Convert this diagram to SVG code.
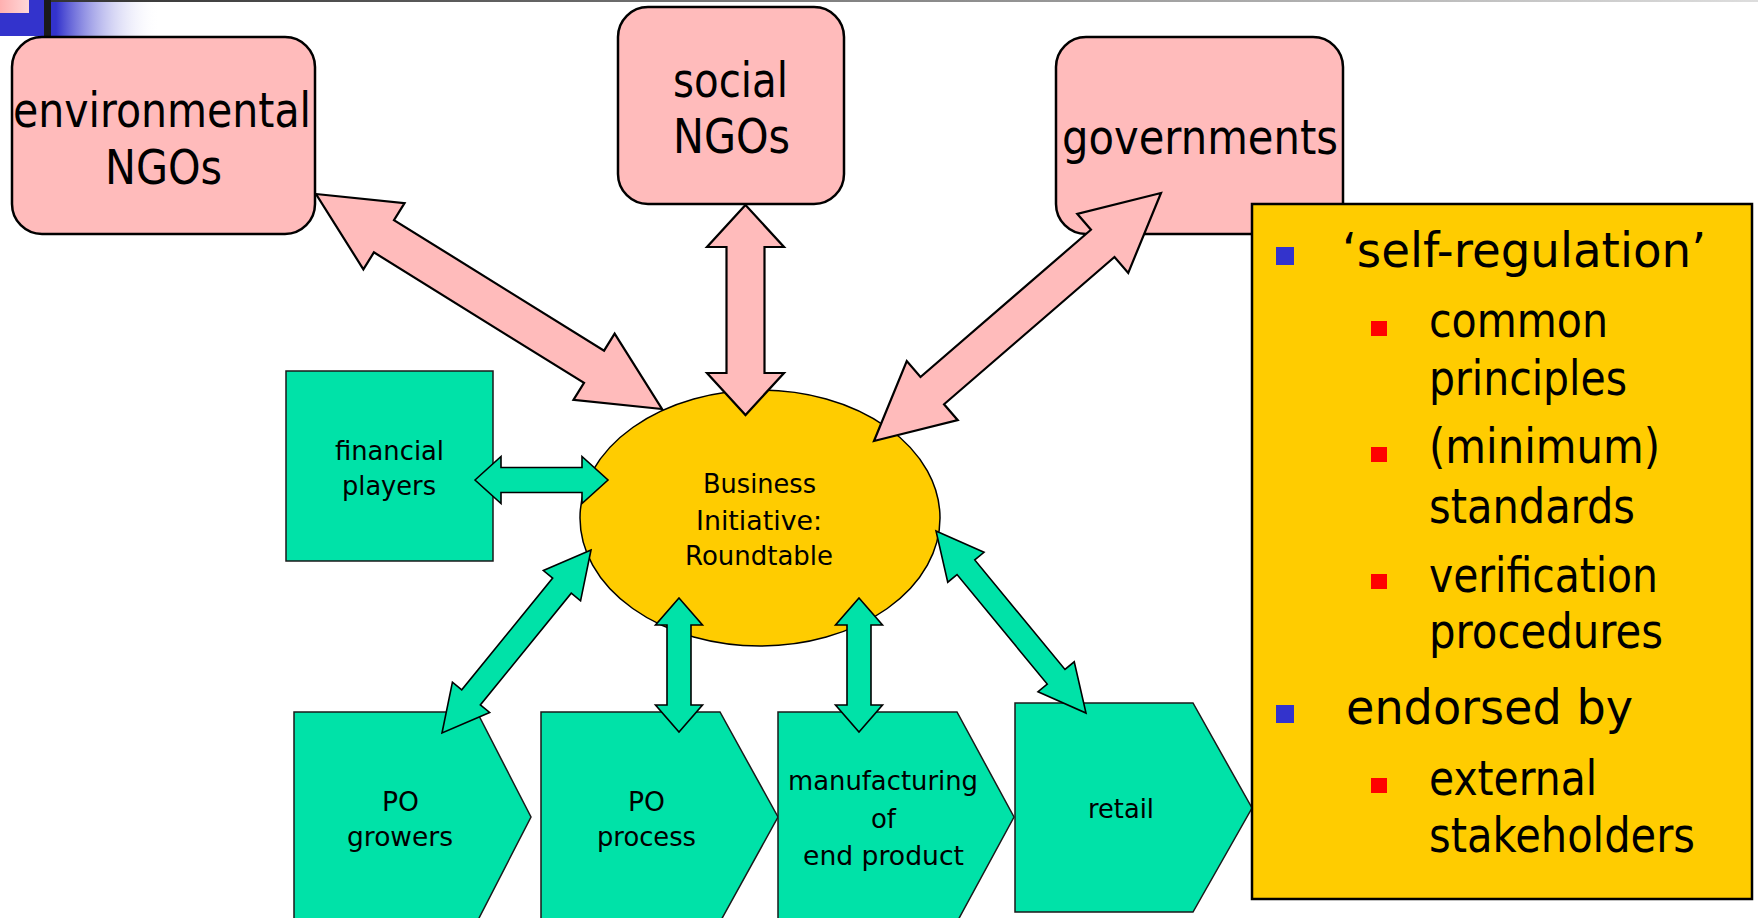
<svg xmlns="http://www.w3.org/2000/svg" width="1758" height="918" viewBox="0 0 1758 918">
<defs>
<linearGradient id="blueFade" x1="0" y1="0" x2="1" y2="0">
<stop offset="0" stop-color="#3333CC"/>
<stop offset="0.35" stop-color="#3333CC"/>
<stop offset="1" stop-color="#FFFFFF" stop-opacity="0"/>
</linearGradient>
<linearGradient id="pinkFade" x1="0" y1="0" x2="1" y2="0">
<stop offset="0" stop-color="#FFB0B0"/>
<stop offset="1" stop-color="#FFD8D8"/>
</linearGradient>
<linearGradient id="topLine" x1="0" y1="0" x2="1" y2="0">
<stop offset="0" stop-color="#333333"/>
<stop offset="1" stop-color="#DDDDDD"/>
</linearGradient>
<style>
.pink{fill:#FFBBBB;stroke:#000;stroke-width:2.5}
.green{fill:#00E2A8;stroke:#1a1a1a;stroke-width:1.5}
.ell{fill:#FFCC00;stroke:#000;stroke-width:1.5}
.parrow{fill:#FFBBBB;stroke:#000;stroke-width:2.2;stroke-linejoin:miter}
.garrow{fill:#00E2A8;stroke:#000;stroke-width:1.6;stroke-linejoin:miter}
.note{fill:#FFCC00;stroke:#000;stroke-width:2.5}
text{font-family:"DejaVu Sans","Liberation Sans",sans-serif;fill:#000}
.big{font-size:48px}
.mid{font-size:27px}
.lst{font-size:48px}
.bb{fill:#3333CC}
.rb{fill:#FF0000}
</style>
</defs>

<g id="decoration">
<rect x="0" y="0" width="160" height="36" fill="url(#blueFade)"/>
<rect x="0" y="0" width="29" height="13" fill="url(#pinkFade)"/>
<rect x="44" y="0" width="7" height="36" fill="#1a1a1a"/>
<rect x="51" y="0" width="1707" height="2" fill="url(#topLine)"/>
</g>

<g id="env-ngos">
<rect class="pink" x="12" y="37" width="303" height="197" rx="30" ry="30"/>
<text class="big" x="13" y="127" textLength="298" lengthAdjust="spacingAndGlyphs">environmental</text>
<text class="big" x="105" y="184" textLength="117" lengthAdjust="spacingAndGlyphs">NGOs</text>
</g>

<g id="social-ngos">
<rect class="pink" x="618" y="7" width="226" height="197" rx="30" ry="30"/>
<text class="big" x="673" y="97" textLength="115" lengthAdjust="spacingAndGlyphs">social</text>
<text class="big" x="673" y="153" textLength="117" lengthAdjust="spacingAndGlyphs">NGOs</text>
</g>

<g id="governments">
<rect class="pink" x="1056" y="37" width="287" height="197" rx="30" ry="30"/>
<text class="big" x="1062" y="154" textLength="276" lengthAdjust="spacingAndGlyphs">governments</text>
</g>

<g id="financial-players">
<rect class="green" x="286" y="371" width="207" height="190"/>
<text class="mid" x="335" y="460" textLength="109" lengthAdjust="spacingAndGlyphs">financial</text>
<text class="mid" x="342" y="495" textLength="94" lengthAdjust="spacingAndGlyphs">players</text>
</g>

<g id="roundtable">
<ellipse class="ell" cx="760" cy="518" rx="180" ry="128"/>
<text class="mid" x="703" y="493" textLength="113" lengthAdjust="spacingAndGlyphs">Business</text>
<text class="mid" x="696" y="530" textLength="126" lengthAdjust="spacingAndGlyphs">Initiative:</text>
<text class="mid" x="685" y="565" textLength="148" lengthAdjust="spacingAndGlyphs">Roundtable</text>
</g>

<g id="po-growers">
<polygon class="green" points="294,712 477,712 531,817 477,922 294,922"/>
<text class="mid" x="382" y="811" textLength="37" lengthAdjust="spacingAndGlyphs">PO</text>
<text class="mid" x="347" y="846" textLength="106" lengthAdjust="spacingAndGlyphs">growers</text>
</g>

<g id="po-process">
<polygon class="green" points="541,712 720,712 778,817 720,922 541,922"/>
<text class="mid" x="628" y="811" textLength="37" lengthAdjust="spacingAndGlyphs">PO</text>
<text class="mid" x="597" y="846" textLength="99" lengthAdjust="spacingAndGlyphs">process</text>
</g>

<g id="manufacturing">
<polygon class="green" points="778,712 957,712 1014,817 957,922 778,922"/>
<text class="mid" x="788" y="790" textLength="190" lengthAdjust="spacingAndGlyphs">manufacturing</text>
<text class="mid" x="871" y="828" textLength="25" lengthAdjust="spacingAndGlyphs">of</text>
<text class="mid" x="803" y="865" textLength="161" lengthAdjust="spacingAndGlyphs">end product</text>
</g>

<g id="retail">
<polygon class="green" points="1015,703 1193,703 1252,808 1193,912 1015,912"/>
<text class="mid" x="1088" y="818" textLength="66" lengthAdjust="spacingAndGlyphs">retail</text>
</g>

<g id="connectors">
<polygon class="parrow" points="316,194 404.53,203.09 393.98,220.08 604.08,350.64 614.63,333.65 662,409 573.47,399.91 584.02,382.92 373.92,252.36 363.37,269.35"/>
<polygon class="parrow" points="745.5,205 784,247 764.5,247 764.5,373 784,373 745.5,415 707,373 726.5,373 726.5,247 707,247"/>
<polygon class="parrow" points="1161,193 1077.23,213.83 1090.96,229.72 920.5,377.04 906.77,361.15 874,441 957.77,420.17 944.04,404.28 1114.5,256.96 1128.23,272.85"/>
<polygon class="garrow" points="475,480 501,456.5 501,467.5 582,467.5 582,456.5 608,480 582,503.5 582,492.5 501,492.5 501,503.5"/>
<polygon class="garrow" points="591,550 543.35,570.52 552.66,578.09 461.74,689.75 452.43,682.18 442,733 489.65,712.48 480.34,704.91 571.26,593.25 580.57,600.82"/>
<polygon class="garrow" points="679,598 702.5,625 691,625 691,705 702.5,705 679,732 655.5,705 667,705 667,625 655.5,625"/>
<polygon class="garrow" points="859,598 882.5,625 871,625 871,705 882.5,705 859,732 835.5,705 847,705 847,625 835.5,625"/>
<polygon class="garrow" points="936,531 984.02,552.32 974.76,559.96 1064.98,669.42 1074.24,661.78 1086,713 1037.98,691.68 1047.24,684.04 957.02,574.58 947.76,582.22"/>
</g>

<g id="summary-box">
<rect class="note" x="1252" y="204" width="500" height="695"/>
<rect class="bb" x="1276" y="247" width="18" height="18"/>
<text class="lst" x="1342" y="267" textLength="364" lengthAdjust="spacingAndGlyphs">‘self-regulation’</text>
<rect class="rb" x="1371" y="321" width="16" height="15"/>
<text class="lst" x="1429" y="337" textLength="179" lengthAdjust="spacingAndGlyphs">common</text>
<text class="lst" x="1429" y="395" textLength="198" lengthAdjust="spacingAndGlyphs">principles</text>
<rect class="rb" x="1371" y="447" width="16" height="15"/>
<text class="lst" x="1429" y="463" textLength="231" lengthAdjust="spacingAndGlyphs">(minimum)</text>
<text class="lst" x="1429" y="523" textLength="206" lengthAdjust="spacingAndGlyphs">standards</text>
<rect class="rb" x="1371" y="574" width="16" height="15"/>
<text class="lst" x="1429" y="592" textLength="229" lengthAdjust="spacingAndGlyphs">verification</text>
<text class="lst" x="1429" y="648" textLength="234" lengthAdjust="spacingAndGlyphs">procedures</text>
<rect class="bb" x="1276" y="705" width="18" height="18"/>
<text class="lst" x="1346" y="724" textLength="287" lengthAdjust="spacingAndGlyphs">endorsed by</text>
<rect class="rb" x="1371" y="778" width="16" height="15"/>
<text class="lst" x="1429" y="795" textLength="168" lengthAdjust="spacingAndGlyphs">external</text>
<text class="lst" x="1429" y="852" textLength="266" lengthAdjust="spacingAndGlyphs">stakeholders</text>
</g>
</svg>
